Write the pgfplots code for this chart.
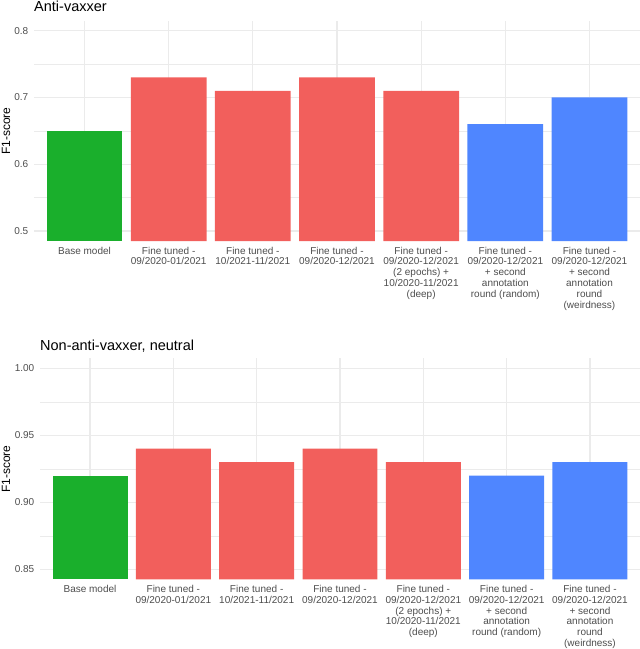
\documentclass[border=0pt]{standalone}
\usepackage{fontspec}
\setmainfont{Liberation Sans}
\usepackage{pgfplots}
\pgfplotsset{compat=1.18}
\definecolor{ggreen}{HTML}{1AAF2C}
\definecolor{gred}{HTML}{F25F5C}
\definecolor{gblue}{HTML}{4F86FF}
\definecolor{gridc}{HTML}{EBEBEB}
\definecolor{tickc}{HTML}{4D4D4D}
\pgfplotsset{
  ggpanel/.style={
    scale only axis,
    xmin=0.4, xmax=7.6,
    axis line style={draw=none},
    major tick style={draw=none},
    minor tick style={draw=none},
    xmajorgrids, ymajorgrids, yminorgrids,
    major grid style={draw=gridc, line width=1.1pt},
    minor grid style={draw=gridc, line width=0.55pt},
    xtick={1,2,3,4,5,6,7},
    xticklabels={{Base model},{Fine tuned -\\09/2020-01/2021},{Fine tuned -\\10/2021-11/2021},{Fine tuned -\\09/2020-12/2021},{Fine tuned -\\09/2020-12/2021\\(2 epochs) +\\10/2020-11/2021\\(deep)},{Fine tuned -\\09/2020-12/2021\\+ second\\annotation\\round (random)},{Fine tuned -\\09/2020-12/2021\\+ second\\annotation\\round\\(weirdness)}},
    xticklabel style={anchor=north, inner sep=0pt, yshift=-5.7pt, align=center, font=\fontsize{10}{10.8}\selectfont, text=tickc},
    yticklabel style={anchor=east, inner sep=0pt, xshift=-5.5pt, font=\fontsize{10}{12}\selectfont, text=tickc},
    /pgf/number format/assume math mode=true,
    clip=true,
  },
  ggbar/.style={ybar, bar width=0.9, bar shift=0pt, draw=none, fill=#1},
}
\begin{document}
\begin{tikzpicture}
\path[use as bounding box] (0pt,0pt) rectangle (640pt,-649pt);
% top panel
\begin{axis}[ggpanel,
  at={(34pt,-241pt)}, anchor=south west,
  width=606pt, height=220.3pt,
  ymin=0.485, ymax=0.815,
  ytick={0.5,0.6,0.7,0.8},
  minor ytick={0.55,0.65,0.75},
  yticklabel style={/pgf/number format/fixed, /pgf/number format/fixed zerofill, /pgf/number format/precision=1},
]
\addplot[ggbar=ggreen] coordinates {(1,0.65)};
\addplot[ggbar=gred] coordinates {(2,0.73) (3,0.71) (4,0.73) (5,0.71)};
\addplot[ggbar=gblue] coordinates {(6,0.66) (7,0.70)};
\end{axis}
% bottom panel
\begin{axis}[ggpanel,
  at={(40pt,-579.3pt)}, anchor=south west,
  width=600pt, height=221pt,
  ymin=0.8425, ymax=1.0075,
  ytick={0.85,0.90,0.95,1.00},
  minor ytick={0.875,0.925,0.975},
  yticklabel style={/pgf/number format/fixed, /pgf/number format/fixed zerofill, /pgf/number format/precision=2},
]
\addplot[ggbar=ggreen] coordinates {(1,0.92)};
\addplot[ggbar=gred] coordinates {(2,0.94) (3,0.93) (4,0.94) (5,0.93)};
\addplot[ggbar=gblue] coordinates {(6,0.92) (7,0.93)};
\end{axis}
% titles and axis titles
\node[anchor=base west, inner sep=0pt, font=\fontsize{14.5}{17}\selectfont] at (34pt,-11.5pt) {Anti-vaxxer};
\node[anchor=base west, inner sep=0pt, font=\fontsize{14.5}{17}\selectfont] at (40pt,-350pt) {Non-anti-vaxxer, neutral};
\node[rotate=90, anchor=base, inner sep=0pt, font=\fontsize{12}{14}\selectfont] at (10pt,-131pt) {F1-score};
\node[rotate=90, anchor=base, inner sep=0pt, font=\fontsize{12}{14}\selectfont] at (10pt,-469.3pt) {F1-score};
\end{tikzpicture}
\end{document}
